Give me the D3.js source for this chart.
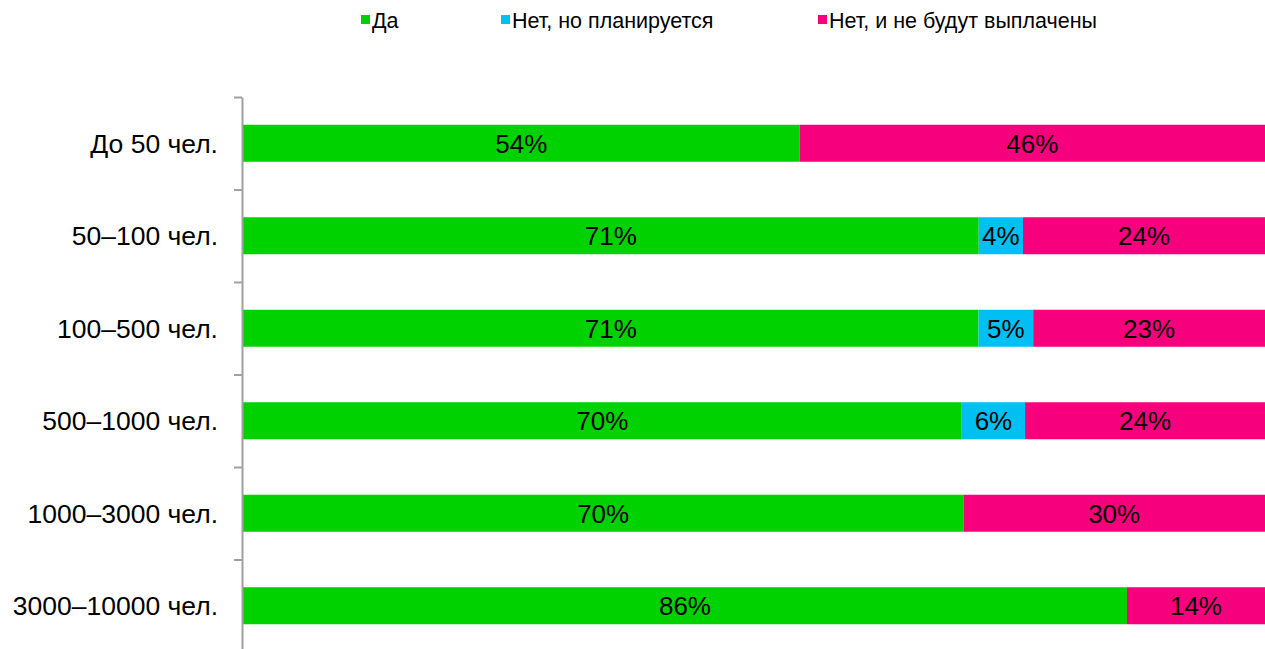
<!DOCTYPE html>
<html>
<head>
<meta charset="utf-8">
<script src="https://cdn.jsdelivr.net/npm/d3@7"></script>
<style>
  body { margin: 0; background: #fff; }
  svg { display: block; font-family: "Liberation Sans", Arial, sans-serif; }
</style>
</head>
<body>
<svg id="chart" width="1265" height="649"></svg>
<script>
// data (raw %, bars are normalised to 100%)
var categories = ["До 50 чел.", "50–100 чел.", "100–500 чел.", "500–1000 чел.", "1000–3000 чел.", "3000–10000 чел."];
var seriesNames = ["Да", "Нет, но планируется", "Нет, и не будут выплачены"];
var yesValues = [54.45, 71.45, 71.4, 70.4, 70.45, 86.45];
var plannedValues = [0, 4.3, 5.3, 6.2, 0, 0];
var neverValues = [45.5, 23.5, 22.5, 23.5, 29.5, 13.5];
var colors = ["#00d200", "#00bff3", "#f7007d"];

var rows = categories.map(function(c, i) {
  return { cat: c, s0: yesValues[i], s1: plannedValues[i], s2: neverValues[i] };
});

var svg = d3.select("#chart");
var margin = { left: 243, right: 0, top: 97, bottom: -3 };
var width = 1265, height = 649;

var x = d3.scaleLinear().domain([0, 1]).range([margin.left, width - margin.right]);
var y = d3.scaleBand().domain(categories)
  .range([margin.top, height - margin.bottom])
  .paddingInner(0.6).paddingOuter(0.3);

var stack = d3.stack().keys(["s0", "s1", "s2"]).offset(d3.stackOffsetExpand);
var layers = stack(rows);

var g = svg.selectAll("g.layer")
  .data(layers)
  .enter().append("g")
  .attr("class", "layer")
  .attr("fill", function(d, i) { return colors[i]; });

g.selectAll("rect")
  .data(function(d) { return d.filter(function(p) { return p[1] - p[0] > 0; }); })
  .enter().append("rect")
  .attr("x", function(d) { return x(d[0]); })
  .attr("width", function(d) { return x(d[1]) - x(d[0]); })
  .attr("y", function(d) { return y(d.data.cat); })
  .attr("height", y.bandwidth());

// value labels
layers.forEach(function(layer) {
  svg.append("g").selectAll("text")
    .data(layer.filter(function(p) { return p[1] - p[0] > 0; }))
    .enter().append("text")
    .attr("x", function(d) { return (x(d[0]) + x(d[1])) / 2; })
    .attr("y", function(d) { return y(d.data.cat) + y.bandwidth() / 2; })
    .attr("dy", "0.36em")
    .attr("text-anchor", "middle")
    .attr("font-size", 26)
    .attr("fill", "#000")
    .text(function(d) { return Math.round(d.data[layer.key]) + "%"; });
});

// axis with ticks between categories
var edge = d3.scaleLinear().domain([0, categories.length]).range(y.range());
var axis = svg.append("g")
  .attr("transform", "translate(" + (margin.left - 1) + ",0)")
  .call(d3.axisLeft(edge).tickValues(d3.range(categories.length + 1)).tickFormat("").tickSize(8).tickSizeOuter(0));
axis.selectAll("path, line").attr("stroke", "#a0a0a0").attr("stroke-width", 2);

svg.append("g").selectAll("text")
  .data(categories)
  .enter().append("text")
  .attr("x", 218)
  .attr("y", function(d) { return y(d) + y.bandwidth() / 2; })
  .attr("dy", "0.36em")
  .attr("text-anchor", "end")
  .attr("font-size", 26.5)
  .attr("fill", "#000")
  .text(function(d) { return d; });

// legend
var legendX = [361, 501, 818];
var legend = svg.append("g").selectAll("g")
  .data(seriesNames)
  .enter().append("g")
  .attr("transform", function(d, i) { return "translate(" + legendX[i] + ",15)"; });
legend.append("rect").attr("width", 9).attr("height", 9)
  .attr("fill", function(d, i) { return colors[i]; });
legend.append("text")
  .attr("x", 11).attr("y", 5).attr("dy", "0.36em")
  .attr("font-size", 21.5).attr("fill", "#000")
  .text(function(d) { return d; });
</script>
</body>
</html>
